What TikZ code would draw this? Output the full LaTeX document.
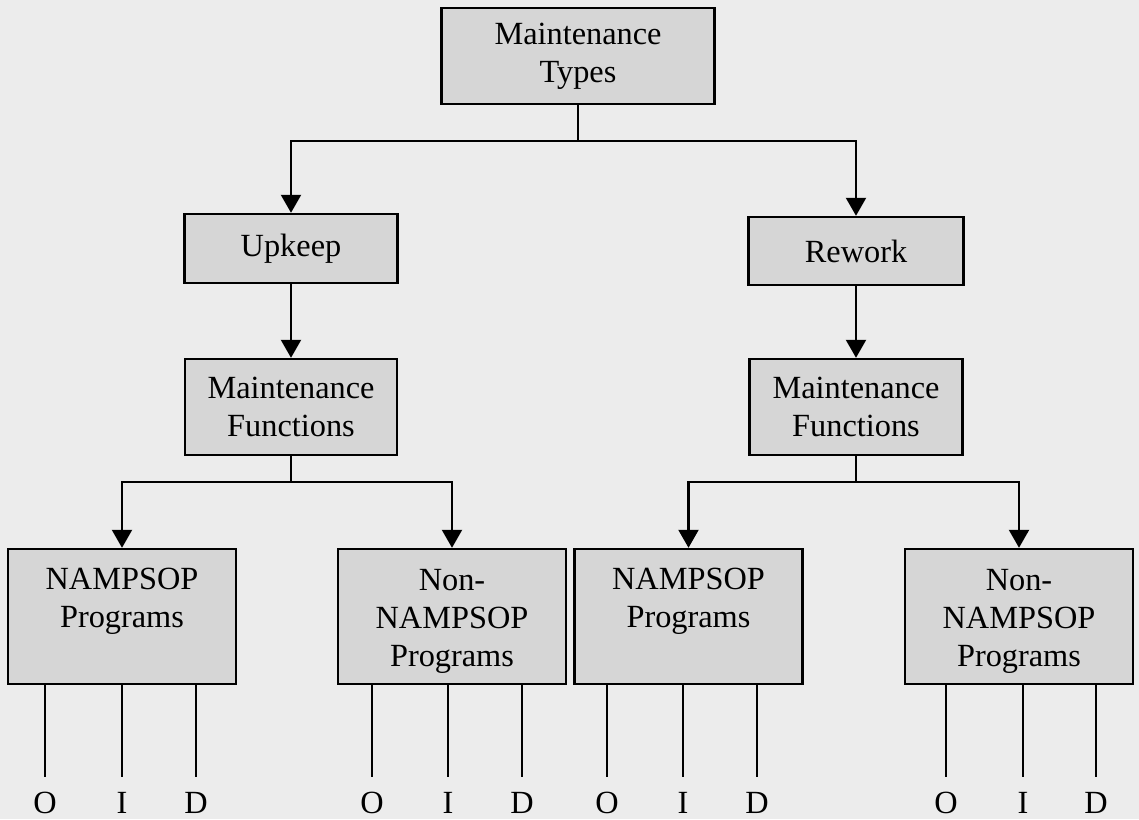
\documentclass[tikz,border=0pt]{standalone}
\usepackage{fontspec}
\setmainfont{Liberation Serif}
\usepackage{xcolor}
\usetikzlibrary{arrows.meta}
\definecolor{paper}{RGB}{236,236,236}
\definecolor{boxgray}{RGB}{214,214,214}

\begin{document}
\begin{tikzpicture}[x=0.02cm, y=-0.02cm,
  box/.style={draw, line width=1.4pt, fill=boxgray, align=center, inner sep=0pt, font=\fontsize{18.4}{21.6}\selectfont},
  prog/.style={box, minimum width=4.56cm, minimum height=2.7cm},
  link/.style={line width=1.25pt, -{Triangle[length=0.36cm, width=0.4cm]}},
  leg/.style={line width=1.15pt, shorten >=0.3cm},
  leaf/.style={inner sep=0pt, font=\fontsize{18.4}{21.6}\selectfont}]
% Background
\fill[paper] (0,0) rectangle (1139,819);

% Upper boxes
\node[box, minimum width=5.46cm, minimum height=1.92cm] (types) at (578,56) {Maintenance\\Types};
\node[box, minimum width=4.26cm, minimum height=1.38cm] (upkeep) at (291,248.5) {Upkeep};
\node[box, minimum width=4.3cm, minimum height=1.36cm] (rework) at (856,251) {Rework};
\node[box, minimum width=4.24cm, minimum height=1.92cm] (funcA) at (291,407) {Maintenance\\Functions};
\node[box, minimum width=4.26cm, minimum height=1.92cm] (funcB) at (856,407) {Maintenance\\Functions};

% Program boxes
\node[prog] (progA) at (122,616.5) {NAMPSOP\\Programs\\\mbox{}};
\node[prog] (otherA) at (452,616.5) {\rule{0pt}{18pt}Non-\\NAMPSOP\\Programs};
\node[prog] (progB) at (688.5,616.5) {NAMPSOP\\Programs\\\mbox{}};
\node[prog] (otherB) at (1019,616.5) {\rule{0pt}{18pt}Non-\\NAMPSOP\\Programs};

% Connectors
\draw[link] (types.south) -- ++(0,36) -| (upkeep.north);
\draw[link] (types.south) -- ++(0,36) -| (rework.north);
\draw[link] (upkeep) -- (funcA);
\draw[link] (rework) -- (funcB);
\draw[link] (funcA.south) -- ++(0,26) -| (progA.north);
\draw[link] (funcA.south) -- ++(0,26) -| (otherA.north);
\draw[link] (funcB.south) -- ++(0,26) -| (progB.north);
\draw[link] (funcB.south) -- ++(0,26) -| (otherB.north);

% Legs with O, I, D
\foreach \b/\xo/\xi/\xd in {progA/45/122/196, otherA/372/448/522, progB/607/683/757, otherB/946/1023/1096} {
  \foreach \l/\x in {O/\xo, I/\xi, D/\xd} {
    \node[leaf] (\b\l) at (\x,803) {\l};
    \draw[leg] (\b.south -| \b\l) -- (\b\l.north);
  }
}
\end{tikzpicture}
\end{document}
